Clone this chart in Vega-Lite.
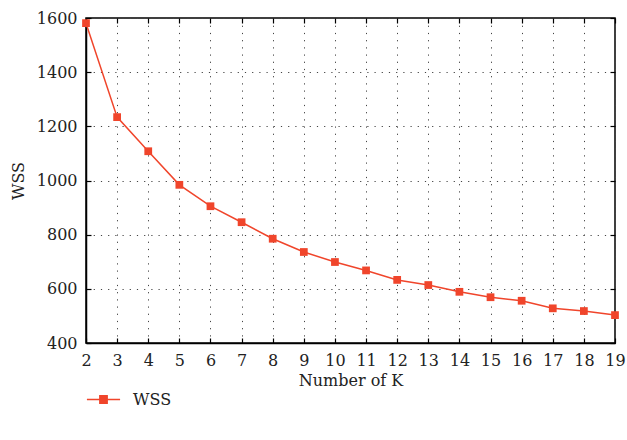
{
  "$schema": "https://vega.github.io/schema/vega-lite/v6.json",
  "width": 529,
  "height": 325,
  "autosize": {"type": "none"},
  "padding": {"left": 86, "top": 18, "right": 12, "bottom": 97},
  "background": "white",
  "config": {
    "view": {"stroke": "black", "strokeWidth": 1.5},
    "font": "DejaVu Serif",
    "axis": {
      "labelFont": "DejaVu Serif",
      "titleFont": "DejaVu Serif",
      "labelFontSize": 16,
      "titleFontSize": 16,
      "labelColor": "#222",
      "titleColor": "#222",
      "titleFontWeight": "normal",
      "labelFlush": false,
      "domainColor": "black",
      "domainWidth": 1.5,
      "tickColor": "black",
      "tickWidth": 1.2,
      "tickSize": -5,
      "labelPadding": 14,
      "gridColor": "#444",
      "gridDash": [1.2, 6],
      "gridWidth": 1
    },
    "legend": {"labelFont": "DejaVu Serif", "labelFontSize": 16, "labelColor": "#222"}
  },
  "data": {
    "values": [
      {"k": 2, "wss": 1581, "s": "WSS"},
      {"k": 3, "wss": 1234, "s": "WSS"},
      {"k": 4, "wss": 1108, "s": "WSS"},
      {"k": 5, "wss": 984, "s": "WSS"},
      {"k": 6, "wss": 905, "s": "WSS"},
      {"k": 7, "wss": 846, "s": "WSS"},
      {"k": 8, "wss": 785, "s": "WSS"},
      {"k": 9, "wss": 736, "s": "WSS"},
      {"k": 10, "wss": 699, "s": "WSS"},
      {"k": 11, "wss": 668, "s": "WSS"},
      {"k": 12, "wss": 633, "s": "WSS"},
      {"k": 13, "wss": 614, "s": "WSS"},
      {"k": 14, "wss": 589, "s": "WSS"},
      {"k": 15, "wss": 569, "s": "WSS"},
      {"k": 16, "wss": 556, "s": "WSS"},
      {"k": 17, "wss": 528, "s": "WSS"},
      {"k": 18, "wss": 518, "s": "WSS"},
      {"k": 19, "wss": 503, "s": "WSS"}
    ]
  },
  "layer": [
    {
      "mark": {"type": "line", "strokeWidth": 1.5, "point": {"shape": "square", "size": 60, "filled": true, "opacity": 1}},
      "encoding": {
        "x": {
          "field": "k", "type": "quantitative",
          "scale": {"domain": [2, 19], "nice": false, "zero": false},
          "axis": {"values": [2,3,4,5,6,7,8,9,10,11,12,13,14,15,16,17,18,19], "format": "d", "title": "Number of K", "titlePadding": 4, "grid": true}
        },
        "y": {
          "field": "wss", "type": "quantitative",
          "scale": {"domain": [400, 1600], "nice": false, "zero": false},
          "axis": {"values": [400, 600, 800, 1000, 1200, 1400, 1600], "format": "d", "title": "WSS", "titlePadding": 10, "grid": true}
        },
        "color": {
          "field": "s", "type": "nominal",
          "scale": {"range": ["#f0452b"]},
          "legend": {
            "title": null,
            "orient": "none",
            "legendX": 0,
            "legendY": 364,
            "symbolType": "M-1,0H1M-0.22,-0.22H0.22V0.22H-0.22Z",
            "symbolSize": 1100,
            "symbolStrokeWidth": 1.5,
            "symbolFillColor": "#f0452b",
            "labelOffset": 12
          }
        }
      }
    },
    {
      "mark": {"type": "point", "opacity": 0},
      "encoding": {
        "x": {
          "field": "k", "type": "quantitative",
          "scale": {"domain": [2, 19], "nice": false, "zero": false},
          "axis": {"orient": "top", "values": [2,3,4,5,6,7,8,9,10,11,12,13,14,15,16,17,18,19], "labels": false, "title": null, "grid": false, "domain": false}
        },
        "y": {
          "field": "wss", "type": "quantitative",
          "scale": {"domain": [400, 1600], "nice": false, "zero": false},
          "axis": {"orient": "right", "values": [400, 600, 800, 1000, 1200, 1400, 1600], "labels": false, "title": null, "grid": false, "domain": false}
        }
      }
    }
  ],
  "resolve": {"axis": {"x": "independent", "y": "independent"}}
}
